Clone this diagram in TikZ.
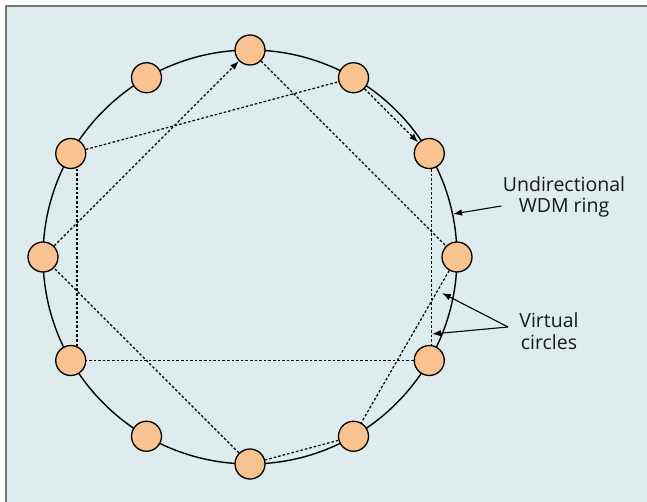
\documentclass[tikz,border=0pt]{standalone}
\usepackage{fontspec}
\setmainfont{Open Sans}
\usetikzlibrary{arrows.meta}
\definecolor{bgc}{RGB}{223,236,237}
\definecolor{bordc}{RGB}{112,120,120}
\definecolor{nodefill}{RGB}{249,194,145}
\begin{document}
\begin{tikzpicture}[x=1pt,y=-1pt,
  station/.style={circle,draw=black,line width=1.3pt,fill=nodefill,minimum size=30pt,inner sep=0pt},
  virt/.style={line width=1.2pt,dash pattern=on 2.6pt off 2pt},
  tipped/.style={-{Latex[length=9pt,width=6.5pt]}},
  lbl/.style={font=\fontsize{19.5}{21.5}\selectfont,align=center,text=black!90},
  pointer/.style={line width=1.1pt,-{Latex[length=9pt,width=6.5pt]}}]
\useasboundingbox (0,0) rectangle (647,502);
\fill[bgc] (6,6) rectangle (647,502);
\draw[bordc,line width=2pt] (6,502) -- (6,6) -- (647,6);
\draw[line width=1.4pt] (250,257) circle (207pt);
\foreach \i in {0,...,11}
  \node[station] (n\i) at ({250+207*cos(90-30*\i)},{257-207*sin(90-30*\i)}) {};
% virtual circle 1
\draw[virt,tipped] (n9) -- (n0);
\draw[virt] (n0) -- (n3);
\draw[virt] (n3) -- (n5);
\draw[virt] (n5) -- (n6);
\draw[virt] (n6) -- (n9);
% virtual circle 2
\draw[virt] (n10) -- (n1);
\draw[virt,tipped] (n1) -- (n2);
\draw[virt] (n2.-82) -- (n4.82);
\draw[virt] (n4) -- (n8);
\draw[virt] (n8.66) -- (n10.-66);
% labels
\node[lbl] (ringlbl) at (564,197) {Undirectional\\WDM ring};
\coordinate (ringpt) at (453,214);
\draw[pointer] ([yshift=-9pt,xshift=2pt]ringlbl.west) -- (ringpt);
\node[lbl] (vlbl) at (549,331) {Virtual\\circles};
\coordinate (vsrc) at (508,327);
\coordinate (vt1) at (442,293);
\coordinate (vt2) at (432,334);
\draw[pointer] (vsrc) -- (vt1);
\draw[pointer] (vsrc) -- (vt2);
\end{tikzpicture}
\end{document}
